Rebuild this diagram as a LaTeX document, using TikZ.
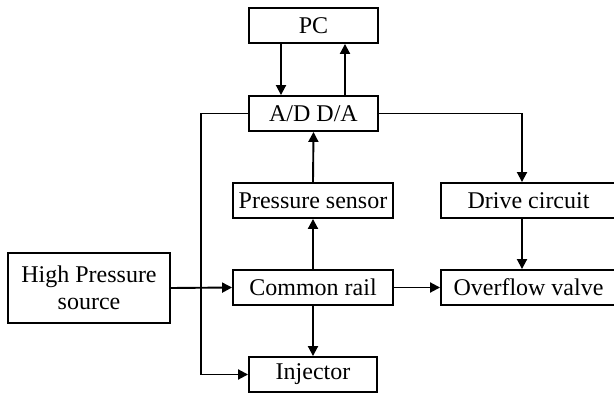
\documentclass[tikz,border=0pt]{standalone}
\usepackage{fontspec}
\setmainfont{Liberation Serif}
\usetikzlibrary{arrows.meta}
\begin{document}
\begin{tikzpicture}[x=1pt,y=-1pt,
  box/.style={draw, line width=1.9pt, inner sep=0pt, minimum height=35pt,
    font=\fontsize{24}{27}\selectfont, align=center},
  link/.style={line width=1.9pt},
  arr/.style={link, -{Triangle[length=10pt,width=10pt]}}]
\useasboundingbox (0,0) rectangle (614,393);
\begin{scope}
\clip (0,0) rectangle (614,393);
\node[box, minimum width=129pt] (pc)  at (313.5,25.5)  {PC};
\node[box, minimum width=129pt] (ad)  at (313.5,113.5) {A/D D/A};
\node[box, minimum width=160pt] (ps)  at (313,200.5)   {Pressure sensor};
\node[box, minimum width=160pt] (cr)  at (313,287.5)   {Common rail};
\node[box, minimum width=128pt] (inj) at (313,374.5)   {Injector};
\node[box, minimum width=162pt, minimum height=70pt] (hp) at (89,288) {High Pressure\\source};
\node[box, minimum width=175pt] (dc)  at (528.5,200.5) {Drive circuit};
\node[box, minimum width=175pt] (ov)  at (528.5,287.5) {Overflow valve};
\end{scope}
\coordinate (lx) at (201,250);
% PC <-> A/D D/A
\draw[arr] ([xshift=-32.5pt]pc.south) -- ([xshift=-32.5pt]ad.north);
\draw[arr] ([xshift=31.5pt]ad.north) -- ([xshift=31.5pt]pc.south);
% sensor chain
\draw[arr] (cr.north) -- (ps.south);
\draw[arr] (ps.north) -- (ad.south);
\draw[arr] (cr.south) -- (inj.north);
% rail feed and relief
\draw[arr] (hp.east) -- (cr.west);
\draw[arr] (cr.east) -- (ov.west);
% controller outputs
\draw[arr] (ad.west) -| (lx) |- (inj.west);
\draw[arr] (ad.east) -| ([xshift=-6.5pt]dc.north);
\draw[arr] ([xshift=-6.5pt]dc.south) -- ([xshift=-6.5pt]ov.north);
\end{tikzpicture}
\end{document}
